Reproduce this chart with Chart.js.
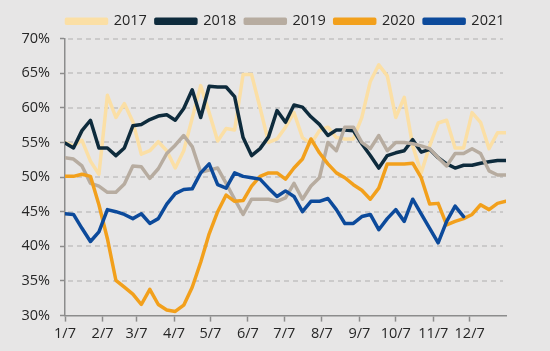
<!DOCTYPE html>
<html>
<head>
<meta charset="utf-8">
<script src="https://cdn.jsdelivr.net/npm/chart.js@4.4.0/dist/chart.umd.min.js"></script>
<style>
  html, body { margin: 0; padding: 0; background: #e7e6e6; }
  #wrap { width: 550px; height: 351px; }
</style>
</head>
<body>
<div id="wrap"><canvas id="chart" width="550" height="351"></canvas></div>
<script>
// weekly values, one point per week starting 1/7
const years = ['2017', '2018', '2019', '2020', '2021'];
const s2017 = [55.0, 54.5, 55.3, 52.3, 50.4, 61.8, 58.6, 60.6, 58.0, 53.3, 53.8, 55.1, 53.8, 51.3, 53.8, 58.5, 63.2, 59.3, 55.2, 57.0, 56.8, 64.8, 64.8, 60.0, 55.0, 55.5, 57.2, 59.3, 55.7, 54.8, 56.7, 57.2, 55.7, 55.5, 55.5, 58.6, 63.8, 66.2, 64.6, 58.6, 61.5, 54.5, 50.6, 54.5, 57.8, 58.2, 54.2, 54.2, 59.3, 57.9, 54.1, 56.4, 56.4];
const s2018 = [54.9, 54.2, 56.7, 58.2, 54.2, 54.2, 53.1, 54.2, 57.4, 57.6, 58.3, 58.8, 59.0, 58.2, 59.9, 62.6, 58.6, 63.1, 63.0, 63.0, 61.6, 55.7, 53.1, 54.1, 55.8, 59.6, 57.9, 60.4, 60.1, 58.7, 57.6, 56.0, 56.8, 56.8, 56.7, 54.8, 53.1, 51.3, 53.1, 53.5, 53.8, 55.4, 53.6, 54.0, 52.8, 51.9, 51.3, 51.7, 51.7, 52.0, 52.2, 52.4, 52.4];
const s2019 = [52.8, 52.6, 51.6, 49.1, 48.7, 47.8, 47.8, 49.0, 51.6, 51.5, 49.8, 51.2, 53.4, 54.6, 56.0, 54.4, 50.7, 51.0, 51.3, 49.1, 46.8, 44.6, 46.8, 46.8, 46.8, 46.5, 47.0, 49.1, 46.8, 48.7, 49.9, 55.0, 53.8, 57.2, 57.2, 55.0, 54.1, 56.0, 53.8, 55.0, 55.0, 54.8, 54.5, 54.1, 52.8, 51.6, 53.4, 53.4, 54.1, 53.4, 50.9, 50.3, 50.3];
const s2020 = [50.1, 50.1, 50.4, 50.1, 46.0, 41.1, 35.1, 34.1, 33.1, 31.6, 33.8, 31.6, 30.8, 30.6, 31.5, 34.1, 37.7, 41.8, 45.0, 47.4, 46.5, 46.6, 48.7, 50.1, 50.6, 50.6, 49.7, 51.3, 52.6, 55.5, 53.5, 51.9, 50.6, 49.9, 48.9, 48.1, 46.8, 48.4, 51.9, 51.9, 51.9, 52.0, 49.9, 46.1, 46.2, 43.1, 43.6, 44.0, 44.6, 46.0, 45.3, 46.2, 46.5];
const s2021 = [44.7, 44.6, 42.6, 40.7, 42.1, 45.3, 45.0, 44.6, 44.0, 44.7, 43.3, 44.0, 46.1, 47.6, 48.2, 48.3, 50.6, 51.9, 48.9, 48.4, 50.6, 50.1, 49.9, 49.7, 48.4, 47.2, 48.0, 47.2, 45.0, 46.5, 46.5, 46.9, 45.3, 43.3, 43.3, 44.3, 44.6, 42.4, 44.0, 45.3, 43.6, 46.8, 44.7, 42.6, 40.5, 43.6, 45.8, 44.3];

// month ticks: label and days since 1/7
const tickLabels = ['1/7', '2/7', '3/7', '4/7', '5/7', '6/7', '7/7', '8/7', '9/7', '10/7', '11/7', '12/7'];
const tickDays = [0, 31, 59, 90, 120, 151, 181, 212, 243, 273, 304, 334];
const yTicks = [30, 35, 40, 45, 50, 55, 60, 65, 70];

const colors = ['#fbdfa5', '#0e2b3c', '#b7aca0', '#f2a01c', '#0c4a9b'];
const series = [s2017, s2018, s2019, s2020, s2021];

const FONT = { family: '"Open Sans", "Noto Sans", sans-serif', size: 14.5 };
const TEXT = '#262626';
const AXIS_GRAY = '#8c8c8c';

function toPoints(values) {
  return values.map((v, i) => ({ x: i * 7, y: v }));
}

const datasets = series.map((s, k) => ({
  label: years[k],
  data: toPoints(s),
  borderColor: colors[k],
  backgroundColor: colors[k],
  borderWidth: 3.5,
  pointRadius: 0,
  tension: 0,
  fill: false,
  borderJoinStyle: 'round',
  borderCapStyle: 'round',
  order: series.length - k   // later years drawn on top
}));

// centre the legend over the plot area rather than the whole canvas
const legendShift = {
  id: 'legendShift',
  afterLayout(chart) {
    const lg = chart.legend;
    const dx = (chart.chartArea.left + chart.chartArea.right) / 2 - (lg.left + lg.right) / 2;
    lg.left += dx;
    lg.right += dx;
  }
};

// dashed horizontal gridlines under the series, each dash a small filled rect
const dashedGrid = {
  id: 'dashedGrid',
  beforeDatasetsDraw(chart) {
    const { ctx, chartArea, scales } = chart;
    const dash = 5, gap = 4;
    ctx.save();
    ctx.fillStyle = '#cbcaca';
    yTicks.forEach(v => {
      if (v === yTicks[0]) return; // bottom line is the x axis
      const y = Math.round(scales.y.getPixelForValue(v));
      const start = Math.round(chartArea.left) + 3;
      const end = Math.round(chartArea.right) - 3;
      for (let x = start; x < end; x += dash + gap) {
        ctx.fillRect(x, y - 1, Math.min(dash, end - x), 2);
      }
    });
    ctx.restore();
  }
};

new Chart(document.getElementById('chart'), {
  type: 'line',
  data: { datasets },
  plugins: [legendShift, dashedGrid],
  options: {
    responsive: false,
    animation: false,
    layout: { padding: { left: 0, right: 44, top: 5, bottom: 4 } },
    plugins: {
      tooltip: { enabled: false },
      legend: {
        position: 'top',
        labels: {
          color: TEXT,
          font: FONT,
          boxWidth: 40,
          boxHeight: 4,
          padding: 9,
          sort: (a, b) => a.datasetIndex - b.datasetIndex
        }
      }
    },
    scales: {
      x: {
        type: 'linear',
        min: 0,
        max: 364,
        afterBuildTicks: (scale) => {
          scale.ticks = tickDays.map(d => ({ value: d }));
        },
        ticks: {
          autoSkip: false,
          maxRotation: 0,
          color: TEXT,
          font: FONT,
          padding: 4,
          callback: (value) => tickLabels[tickDays.indexOf(value)]
        },
        grid: {
          drawOnChartArea: false,
          drawTicks: true,
          tickLength: 6,
          tickColor: AXIS_GRAY,
          tickWidth: 1.5
        },
        border: { color: AXIS_GRAY, width: 1.5 }
      },
      y: {
        min: 30,
        max: 70,
        afterBuildTicks: (scale) => {
          scale.ticks = yTicks.map(v => ({ value: v }));
        },
        afterFit: (scale) => { scale.width = 65; },
        ticks: {
          color: TEXT,
          font: FONT,
          padding: 10,
          callback: (v) => v + '%'
        },
        grid: {
          drawOnChartArea: false,
          tickLength: 5,
          tickColor: AXIS_GRAY,
          tickWidth: 1.5
        },
        border: { color: AXIS_GRAY, width: 1.5 }
      }
    }
  }
});
</script>
</body>
</html>
